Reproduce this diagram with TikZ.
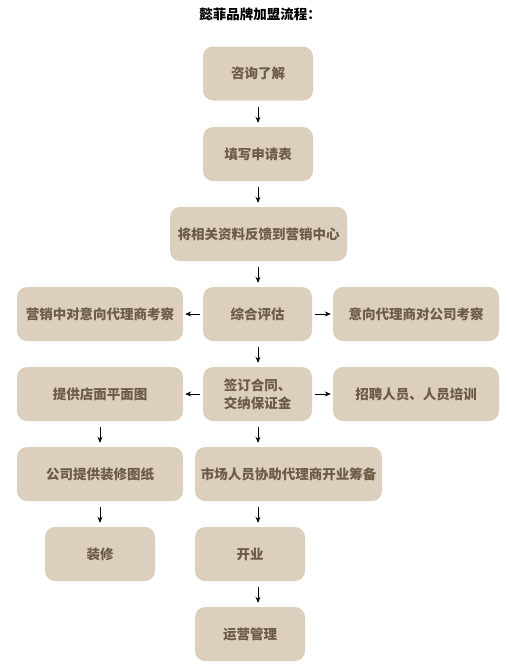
\documentclass[tikz,border=0pt]{standalone}
\usepackage{fontspec}
\setmainfont{Noto Sans CJK SC}
\usetikzlibrary{arrows.meta}
\definecolor{boxfill}{HTML}{DCCFBD}
\definecolor{boxtext}{HTML}{6B5B47}
\tikzset{
  box/.style={fill=boxfill, rounded corners=10pt, minimum height=54pt, inner sep=1pt,
    text=boxtext, font=\fontsize{13.5pt}{18pt}\selectfont\bfseries, align=center},
  arr/.style={-{Stealth[length=6pt,width=5pt]}, line width=0.8pt, black}
}
\begin{document}
\begin{tikzpicture}[x=1pt,y=-1pt]
\useasboundingbox (0,0) rectangle (508,670);
\node[font=\fontsize{13.5pt}{14pt}\selectfont\bfseries] (title) at (260,14) {懿菲品牌加盟流程：};
\coordinate (col) at (258,0);
\coordinate (lcol) at (100,0);
\node[box, minimum width=110pt] (b1) at (258,73.5) {咨询了解};
\node[box, minimum width=110pt] (b2) at (258,154) {填写申请表};
\node[box, minimum width=177pt] (b3) at (258.5,234) {将相关资料反馈到营销中心};
\node[box, minimum width=166pt] (l4) at (100,314) {营销中对意向代理商考察};
\node[box, minimum width=109pt] (m4) at (257.5,314) {综合评估};
\node[box, minimum width=166pt] (r4) at (416,314) {意向代理商对公司考察};
\node[box, minimum width=166pt] (l5) at (100,394) {提供店面平面图};
\node[box, minimum width=109pt, align=left] (m5) at (257.5,394) {签订合同、\\交纳保证金};
\node[box, minimum width=166pt] (r5) at (416,394) {招聘人员、人员培训};
\node[box, minimum width=166pt] (l6) at (100,474) {公司提供装修图纸};
\node[box, minimum width=187pt] (m6) at (288.5,474) {市场人员协助代理商开业筹备};
\node[box, minimum width=110pt] (l7) at (100,554) {装修};
\node[box, minimum width=110pt] (m7) at (250,554) {开业};
\node[box, minimum width=110pt] (m8) at (250,634) {运营管理};
\begin{scope}[shorten <=6pt, shorten >=4pt]
\draw[arr] (b1.south -| col) -- (b2.north -| col);
\draw[arr] (b2.south -| col) -- (b3.north -| col);
\draw[arr] (b3.south -| col) -- (m4.north -| col);
\draw[arr] (m4.south -| col) -- (m5.north -| col);
\draw[arr] (m5.south -| col) -- (m6.north -| col);
\draw[arr] (m6.south -| col) -- (m7.north -| col);
\draw[arr] (m7.south -| col) -- (m8.north -| col);
\draw[arr] (l5.south -| lcol) -- (l6.north -| lcol);
\draw[arr] (l6.south -| lcol) -- (l7.north -| lcol);
\end{scope}
\begin{scope}[shorten <=3pt, shorten >=2pt]
\draw[arr] (m4.west) -- (l4.east);
\draw[arr] (m4.east) -- (r4.west);
\draw[arr] (m5.west) -- (l5.east);
\draw[arr] (m5.east) -- (r5.west);
\end{scope}
\end{tikzpicture}
\end{document}
